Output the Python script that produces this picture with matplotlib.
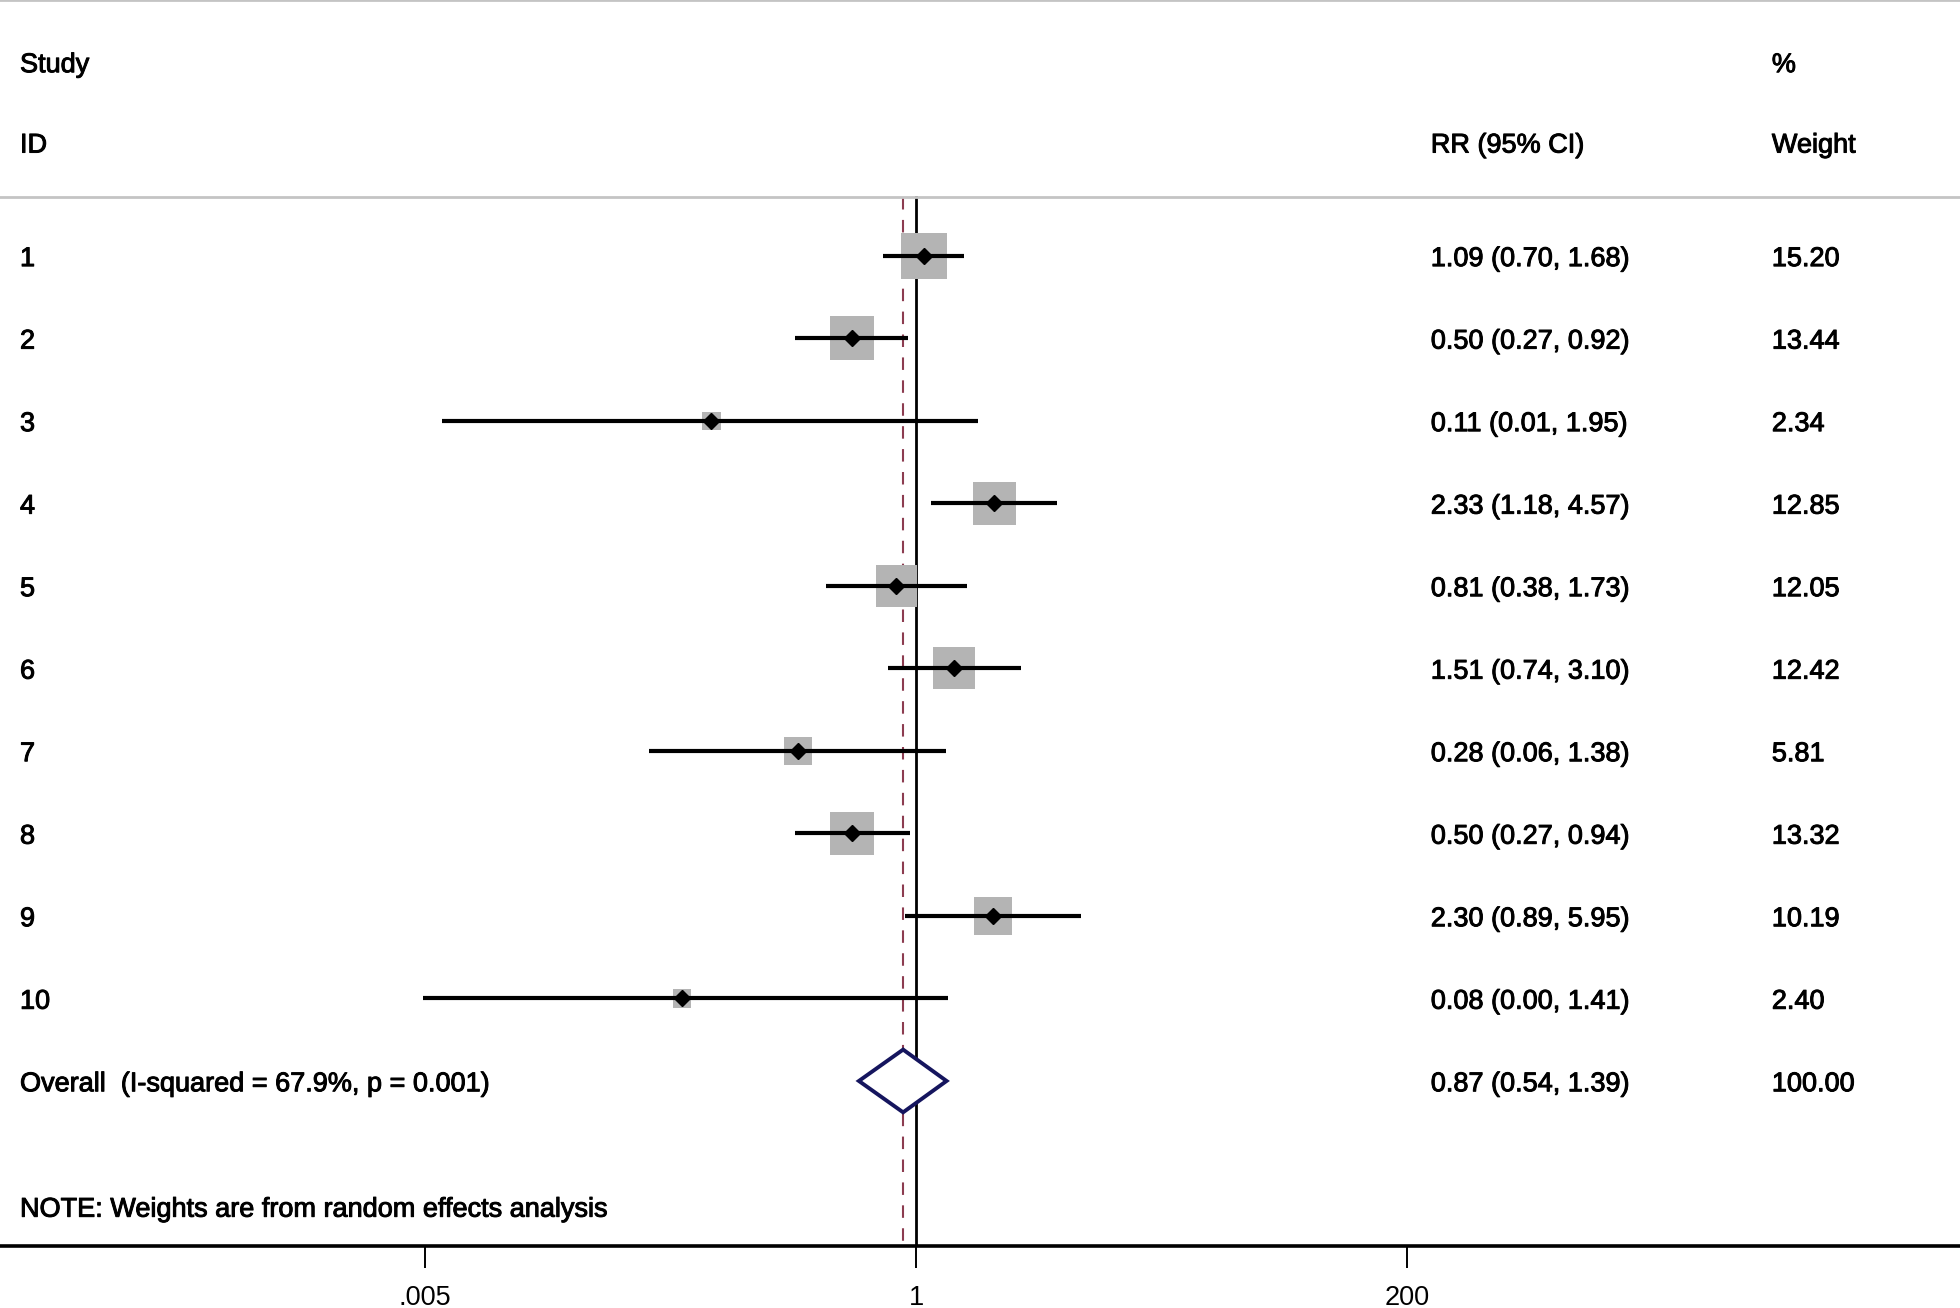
import matplotlib
matplotlib.use("Agg")
import matplotlib.pyplot as plt
import matplotlib.transforms as mtransforms
import matplotlib.patheffects as pe
import numpy as np

plt.rcParams['font.family'] = ['Liberation Sans', 'DejaVu Sans']

# study data
study_ids = ['1', '2', '3', '4', '5', '6', '7', '8', '9', '10']
rr = [1.09, 0.50, 0.11, 2.33, 0.81, 1.51, 0.28, 0.50, 2.30, 0.08]
ci_low = [0.70, 0.27, 0.006, 1.18, 0.38, 0.74, 0.056, 0.27, 0.89, 0.0049]
ci_high = [1.68, 0.92, 1.95, 4.57, 1.73, 3.10, 1.38, 0.94, 5.95, 1.41]
weights = [15.20, 13.44, 2.34, 12.85, 12.05, 12.42, 5.81, 13.32, 10.19, 2.40]

overall_rr = 0.87
overall_low = 0.54
overall_high = 1.39
overall_label = 'Overall  (I-squared = 67.9%, p = 0.001)'
note = 'NOTE: Weights are from random effects analysis'

xticks = [0.005, 1, 200]
xtick_labels = ['.005', '1', '200']

fig = plt.figure(figsize=(19.6, 13.08), dpi=100)
ax = fig.add_axes([0, 1 - 1246 / 1308, 1, 1246 / 1308])
ax.set_xscale('log')
ax.set_xlim(np.exp(-9.88), np.exp(11.26))
ax.set_ylim(13.0, -2.10)

rows = np.arange(1, len(study_ids) + 1)
fs = 19.5
dy = 0.04  # small nudge so text centres sit on the rows
tr = mtransforms.blended_transform_factory(fig.transFigure, ax.transData)
heavy = [pe.withStroke(linewidth=0.7, foreground='black')]


def label(x, y, s):
    ax.text(x, y + dy, s, transform=tr, fontsize=fs, va='center',
            path_effects=heavy)


# reference lines
ax.plot([1, 1], [0.29, 13.0], color='black', lw=2.0, zorder=1)
ax.plot([overall_rr, overall_rr], [0.29, 13.0], color='#8c3c50', lw=1.5,
        dashes=(6, 5), zorder=1)
ax.axhline(0.29, color='#c4c4c4', lw=2)

# weight boxes, CIs and point estimates
ax.scatter(rr, rows, s=[74 * w for w in weights], marker='s',
           color='#b4b4b4', zorder=2, linewidths=0)
ax.hlines(rows, ci_low, ci_high, color='black', lw=3.0, zorder=3)
ax.plot(rr, rows, 'D', color='black', markersize=8, zorder=4)

# overall diamond
yo = len(study_ids) + 1
ax.fill([overall_low, overall_rr, overall_high, overall_rr],
        [yo, yo - 0.38, yo, yo + 0.38],
        facecolor='white', edgecolor='#15155e', lw=2.8, zorder=3)

# header
label(0.0102, -1.35, 'Study')
label(0.0102, -0.376, 'ID')
label(0.730, -0.376, 'RR (95% CI)')
label(0.904, -1.35, '%')
label(0.904, -0.376, 'Weight')

# row labels
for i in range(len(study_ids)):
    label(0.0102, rows[i], study_ids[i])
    label(0.730, rows[i], f'{rr[i]:.2f} ({ci_low[i]:.2f}, {ci_high[i]:.2f})')
    label(0.904, rows[i], f'{weights[i]:.2f}')

label(0.0102, yo, overall_label)
label(0.730, yo, f'{overall_rr:.2f} ({overall_low:.2f}, {overall_high:.2f})')
label(0.904, yo, '100.00')
label(0.0102, 12.52, note)

# axis
ax.set_xticks(xticks)
ax.set_xticklabels(xtick_labels, fontsize=fs)
ax.minorticks_off()
ax.set_yticks([])
ax.tick_params(axis='x', direction='out', length=16, width=1.4, pad=12)
ax.spines['left'].set_visible(False)
ax.spines['right'].set_visible(False)
ax.spines['top'].set_color('#c4c4c4')
ax.spines['top'].set_linewidth(2)
ax.spines['bottom'].set_linewidth(2.6)

fig.savefig('out.png', dpi=100)
